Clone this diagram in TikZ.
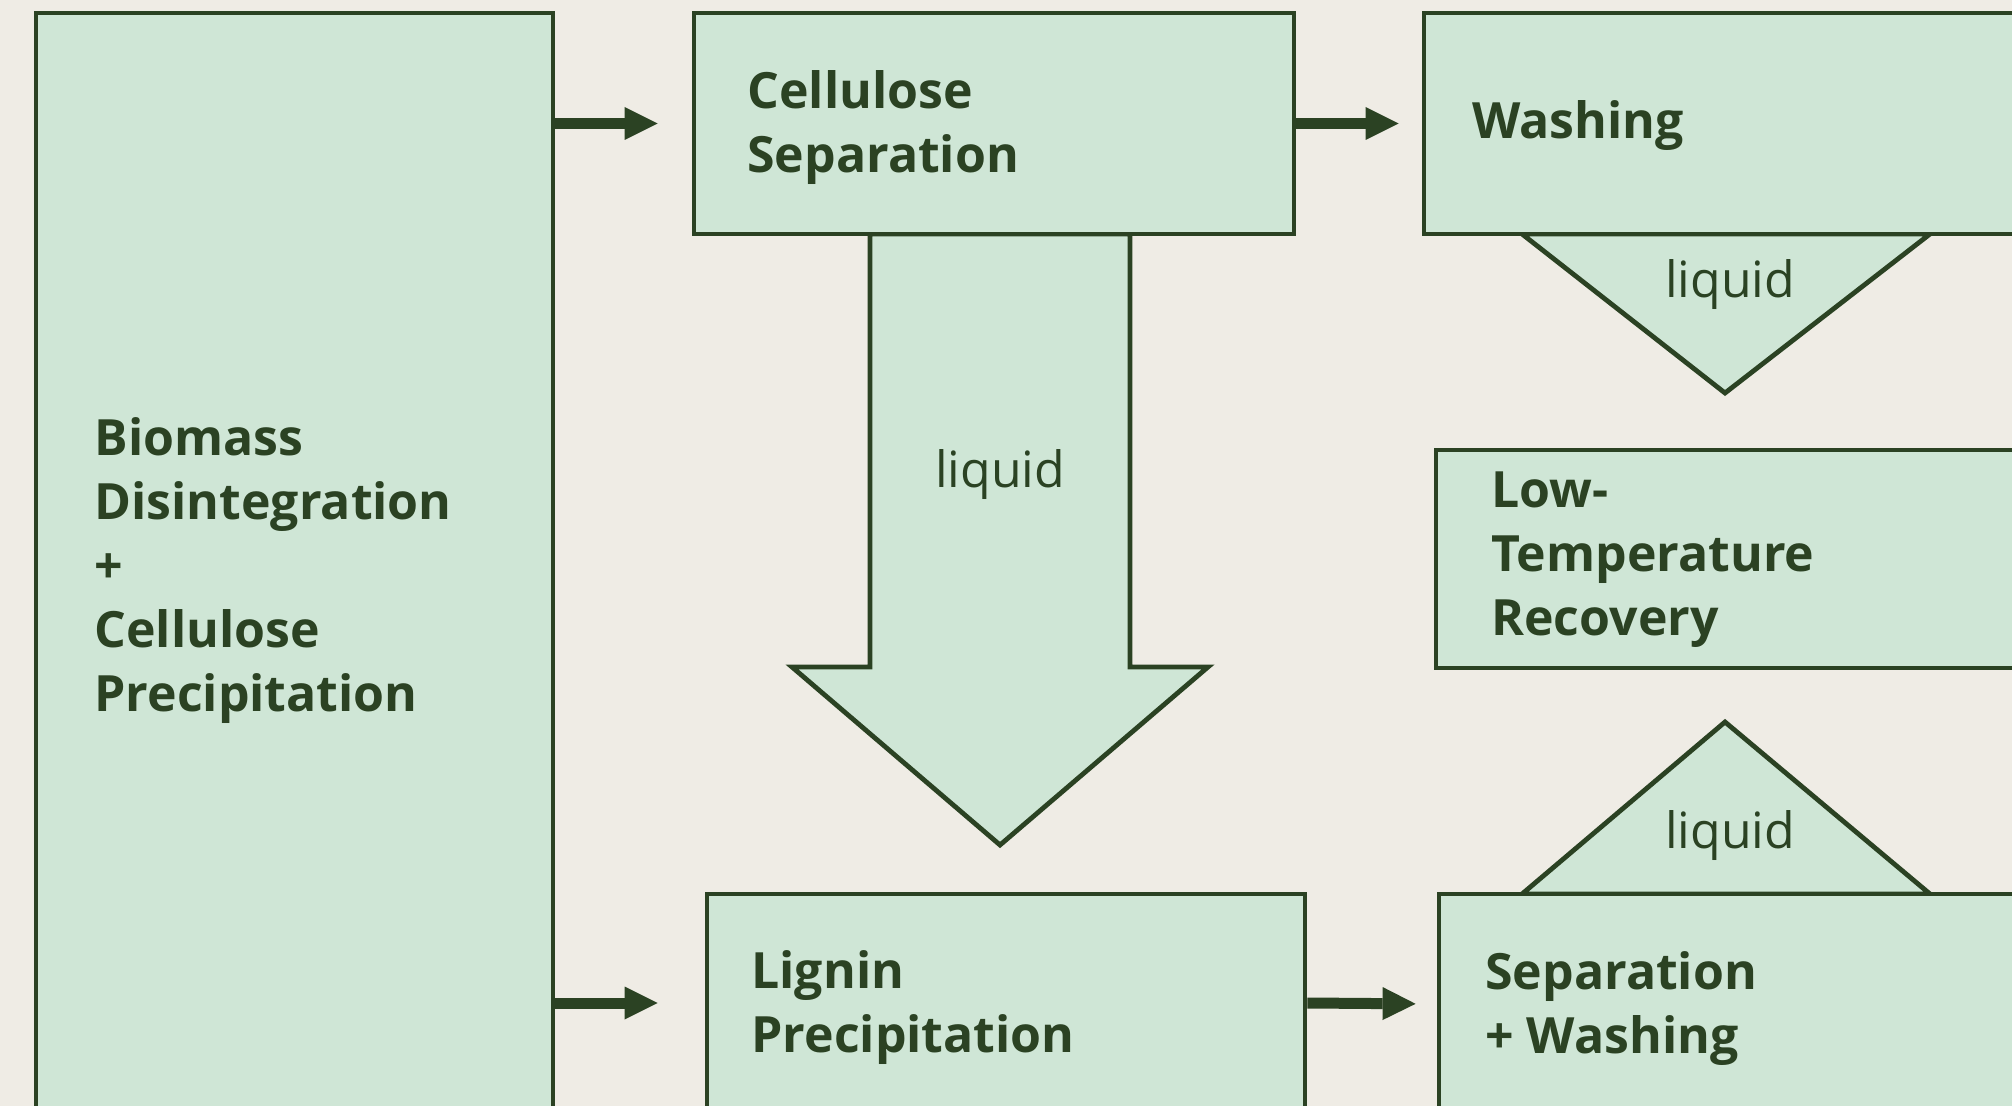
\documentclass[tikz,border=0pt]{standalone}
\usepackage{fontspec}
\setmainfont{Open Sans}
\usetikzlibrary{arrows.meta,fit}
\definecolor{bg}{HTML}{EFECE5}
\definecolor{boxfill}{HTML}{CFE6D6}
\definecolor{ink}{HTML}{2B4223}
\begin{document}
\begin{tikzpicture}[x=0.5pt,y=-0.5pt,
  box/.style={draw=ink,fill=boxfill,line width=2.4pt,inner sep=0pt},
  shp/.style={draw=ink,fill=boxfill,line width=2.4pt,line join=miter},
  lbl/.style={text=ink,inner sep=0pt,anchor=west,align=left,font=\bfseries\fontsize{25pt}{32pt}\selectfont},
  liq/.style={text=ink,inner sep=0pt,font=\fontsize{25pt}{30pt}\selectfont},
  conn/.style={draw=ink,line width=5.5pt,-{Triangle[length=16.5pt,width=16.5pt,line width=0pt]}}
]
\useasboundingbox (0,0) rectangle (2012,1106);
\fill[bg] (0,0) rectangle (2012,1106);
\clip (0,0) rectangle (2012,1106);

% shapes
\draw[shp] (870,234) -- (870,667) -- (792,667) -- (1000,845) -- (1208,667) -- (1130,667) -- (1130,234) -- cycle;
\draw[shp] (1522,234) -- (1725,393) -- (1930,234) -- cycle;
\draw[shp] (1522,894) -- (1725,722) -- (1930,894) -- cycle;

% boxes
\node[box,fit={(36,13)(553,1119)}] (bio) {};
\node[box,fit={(694,13)(1294,234)}] (cs) {};
\node[box,fit={(1424,13)(2060,234)}] (wash) {};
\node[box,fit={(1436,450)(2060,668)}] (ltr) {};
\node[box,fit={(707,894)(1305,1112)}] (lig) {};
\node[box,fit={(1439,894)(2060,1114)}] (sep) {};

% labels
\node[lbl] (bioT) at (94,571) {Biomass\\Disintegration\\+\\Cellulose\\Precipitation};
\node[lbl] (csT) at (747,128) {Cellulose\\Separation};
\node[lbl] (washT) at (1472,126) {Washing};
\node[lbl] (ltrT) at (1491,560) {Low-\\Temperature\\Recovery};
\node[lbl] (ligT) at (751,1008) {Lignin\\Precipitation};
\node[lbl] (sepT) at (1485,1009) {Separation\\+ Washing};

\node[liq] (liq1) at (1000,475) {liquid};
\node[liq] (liq2) at (1730,285) {liquid};
\node[liq] (liq3) at (1730,836) {liquid};

% connectors
\draw[conn,shorten >=17pt] (bio.east |- cs.west) -- (cs.west);
\draw[conn,shorten >=23.5pt] (bio.east |- lig.west) -- (lig.west);
\draw[conn,shorten >=11.5pt] (cs.east) -- (wash.west);
\draw[conn,shorten >=10.5pt] (lig.east) -- (sep.west);
\end{tikzpicture}
\end{document}
